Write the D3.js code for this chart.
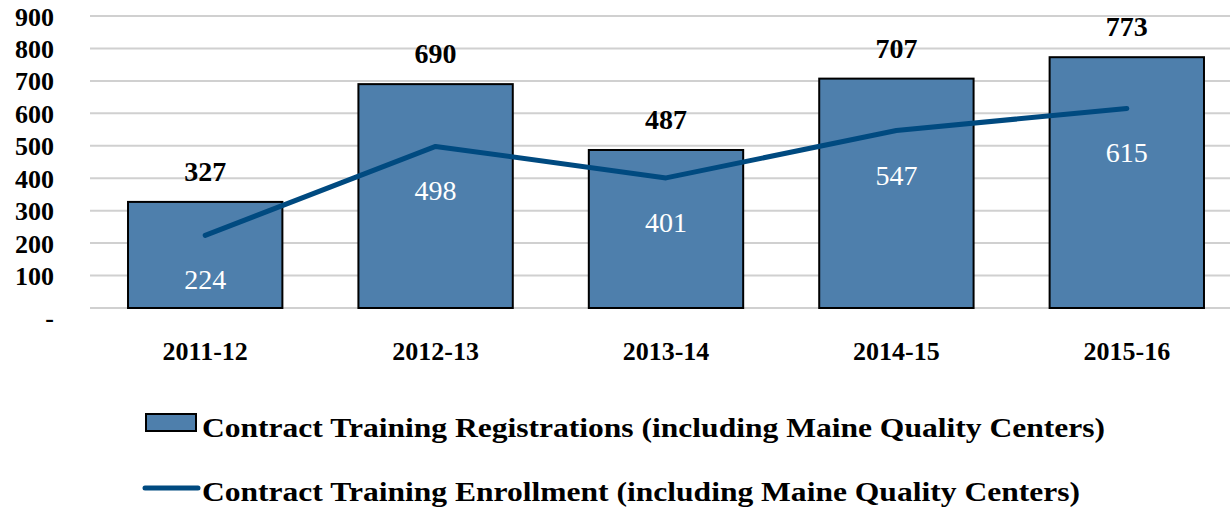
<!DOCTYPE html>
<html>
<head>
<meta charset="utf-8">
<script src="https://cdn.jsdelivr.net/npm/d3@7"></script>
<style>
  body { margin: 0; background: #fff; }
  svg text { font-family: "Liberation Serif", "Times New Roman", Tinos, "DejaVu Serif", serif; }
</style>
</head>
<body>
<div id="chart"></div>
<script>
const years = ['2011-12', '2012-13', '2013-14', '2014-15', '2015-16'];
const registrations = [327, 690, 487, 707, 773];
const enrollment = [224, 498, 401, 547, 615];
const yTicks = [0, 100, 200, 300, 400, 500, 600, 700, 800, 900];
const legendLabels = [
  'Contract Training Registrations (including Maine Quality Centers)',
  'Contract Training Enrollment (including Maine Quality Centers)'
];
const legendWidths = [903, 878];

const width = 1230, height = 513;
const barColor = '#4e7fac', lineColor = '#004a80';
const serif = '"Liberation Serif", "Times New Roman", Tinos, "DejaVu Serif", serif';

const svg = d3.select('#chart').append('svg')
  .attr('width', width)
  .attr('height', height);

const x = d3.scaleBand()
  .domain(years)
  .range([90, 1242])
  .paddingInner(0.33)
  .paddingOuter(0.165);

const y = d3.scaleLinear()
  .domain([0, 900])
  .range([308, 16]);

// gridlines
svg.append('g')
  .selectAll('line')
  .data(yTicks)
  .join('line')
    .attr('x1', 90)
    .attr('x2', width)
    .attr('y1', d => y(d))
    .attr('y2', d => y(d))
    .attr('stroke', '#d0d0d0')
    .attr('stroke-width', 2);

// y axis labels
const yAxis = svg.append('g')
  .attr('transform', 'translate(54,0)')
  .call(d3.axisLeft(y).tickValues(yTicks).tickSize(0).tickPadding(0)
    .tickFormat(d => d === 0 ? '-' : d));
yAxis.attr('font-family', serif);
yAxis.select('.domain').remove();
yAxis.selectAll('text')
  .attr('font-size', 26)
  .attr('font-weight', 'bold')
  .attr('fill', '#000')
  .attr('dy', d => d === 0 ? '0.7em' : '0.35em');

// bars
svg.append('g')
  .selectAll('rect')
  .data(registrations)
  .join('rect')
    .attr('x', (d, i) => x(years[i]))
    .attr('y', d => y(d))
    .attr('width', x.bandwidth())
    .attr('height', d => y(0) - y(d))
    .attr('fill', barColor)
    .attr('stroke', '#000')
    .attr('stroke-width', 2);

// x axis labels
const xAxis = svg.append('g')
  .attr('transform', 'translate(0,342)')
  .call(d3.axisBottom(x).tickSize(0).tickPadding(0));
xAxis.attr('font-family', serif);
xAxis.select('.domain').remove();
xAxis.selectAll('text')
  .attr('font-size', 26)
  .attr('font-weight', 'bold')
  .attr('fill', '#000')
  .attr('dy', '0.7em');

// line
const line = d3.line()
  .x((d, i) => x(years[i]) + x.bandwidth() / 2)
  .y(d => y(d));

svg.append('path')
  .datum(enrollment)
  .attr('d', line)
  .attr('fill', 'none')
  .attr('stroke', lineColor)
  .attr('stroke-width', 5)
  .attr('stroke-linecap', 'round')
  .attr('stroke-linejoin', 'round');

// bar value labels
svg.append('g')
  .selectAll('text')
  .data(registrations)
  .join('text')
    .attr('x', (d, i) => x(years[i]) + x.bandwidth() / 2)
    .attr('y', d => y(d) - 21)
    .attr('text-anchor', 'middle')
    .attr('font-size', 28)
    .attr('font-weight', 'bold')
    .attr('fill', '#000')
    .text(d => d);

// line value labels
svg.append('g')
  .selectAll('text')
  .data(enrollment)
  .join('text')
    .attr('x', (d, i) => x(years[i]) + x.bandwidth() / 2)
    .attr('y', d => y(d) + 54)
    .attr('text-anchor', 'middle')
    .attr('font-size', 28)
    .attr('fill', '#fff')
    .text(d => d);

// legend
const legend = svg.append('g');
legend.append('rect')
  .attr('x', 146).attr('y', 414)
  .attr('width', 50).attr('height', 17)
  .attr('fill', barColor)
  .attr('stroke', '#000')
  .attr('stroke-width', 2);
legend.append('line')
  .attr('x1', 145).attr('x2', 198)
  .attr('y1', 488).attr('y2', 488)
  .attr('stroke', lineColor)
  .attr('stroke-width', 5)
  .attr('stroke-linecap', 'round');
legend.selectAll('text')
  .data(legendLabels)
  .join('text')
    .attr('x', 202)
    .attr('y', (d, i) => 437 + i * 64)
    .attr('font-size', 28)
    .attr('font-weight', 'bold')
    .attr('fill', '#000')
    .attr('textLength', (d, i) => legendWidths[i])
    .attr('lengthAdjust', 'spacingAndGlyphs')
    .text(d => d);
</script>
</body>
</html>
